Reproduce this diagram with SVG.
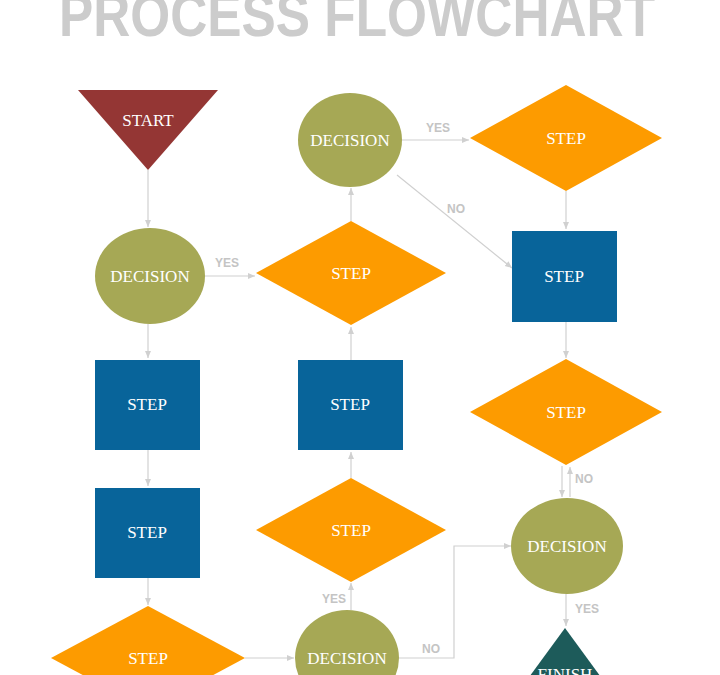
<svg xmlns="http://www.w3.org/2000/svg" width="720" height="675" viewBox="0 0 720 675">
<style>
.t{font-family:"Liberation Serif",serif;font-size:17px;fill:#fff;text-anchor:middle}
.l{font-family:"Liberation Sans",sans-serif;font-weight:bold;font-size:12px;fill:#c4c4c4}
.c{fill:none;stroke:#d0d0d0;stroke-width:1.2;marker-end:url(#a)}
.dec{fill:#a6a855}.sq{fill:#08649a}.dia{fill:#fd9b00}
</style>
<defs><marker id="a" markerWidth="8" markerHeight="8" refX="7" refY="4" orient="auto" markerUnits="userSpaceOnUse"><path d="M0,1 L7,4 L0,7z" fill="#d0d0d0"/></marker></defs>
<rect width="720" height="675" fill="#fff"/>
<text x="357" y="36" text-anchor="middle" font-family="Liberation Sans,sans-serif" font-weight="bold" font-size="62" fill="#cccccc" textLength="596" lengthAdjust="spacingAndGlyphs">PROCESS FLOWCHART</text>
<g id="connectors">
<path class="c" d="M148,170 V227"/>
<path class="c" d="M205,276 H255"/>
<path class="c" d="M148,324 V358"/>
<path class="c" d="M148,450 V486"/>
<path class="c" d="M148,578 V605"/>
<path class="c" d="M245,658 H294"/>
<path class="c" d="M351,610 V583"/>
<path class="c" d="M351,478 V452"/>
<path class="c" d="M351,360 V327"/>
<path class="c" d="M351,221 V188"/>
<path class="c" d="M402,140 H469"/>
<path class="c" d="M397,175 L512,268"/>
<path class="c" d="M566,191 V229"/>
<path class="c" d="M566,322 V358"/>
<path class="c" d="M562,466 V497"/>
<path class="c" d="M570,497 V467"/>
<path class="c" d="M399,658 H454 V546 H511"/>
<path class="c" d="M566,594 V626"/>
<text class="l" x="215" y="267">YES</text>
<text class="l" x="426" y="132">YES</text>
<text class="l" x="447" y="213">NO</text>
<text class="l" x="575" y="483">NO</text>
<text class="l" x="575" y="613">YES</text>
<text class="l" x="322" y="603">YES</text>
<text class="l" x="422" y="653">NO</text>
</g>
<g id="start"><path d="M78,90 H218 L148,170z" fill="#943634"/><text class="t" x="148" y="126">START</text></g>
<g id="dec1"><ellipse class="dec" cx="150" cy="276" rx="55" ry="48"/><text class="t" x="150" y="282">DECISION</text></g>
<g id="step1"><rect class="sq" x="95" y="360" width="105" height="90"/><text class="t" x="147" y="410">STEP</text></g>
<g id="step2"><rect class="sq" x="95" y="488" width="105" height="90"/><text class="t" x="147" y="538">STEP</text></g>
<g id="step3"><path class="dia" d="M51,658 L148,606 L245,658 L148,710z"/><text class="t" x="148" y="664">STEP</text></g>
<g id="dec5"><ellipse class="dec" cx="347" cy="658" rx="52" ry="48"/><text class="t" x="347" y="664">DECISION</text></g>
<g id="step4"><path class="dia" d="M256,530 L351,478 L446,530 L351,582z"/><text class="t" x="351" y="536">STEP</text></g>
<g id="step5"><rect class="sq" x="298" y="360" width="105" height="90"/><text class="t" x="350" y="410">STEP</text></g>
<g id="step6"><path class="dia" d="M256,273 L351,221 L446,273 L351,325z"/><text class="t" x="351" y="279">STEP</text></g>
<g id="dec2"><ellipse class="dec" cx="350" cy="140" rx="52" ry="47"/><text class="t" x="350" y="146">DECISION</text></g>
<g id="step7"><path class="dia" d="M470,138 L566,85 L662,138 L566,191z"/><text class="t" x="566" y="144">STEP</text></g>
<g id="step8"><rect class="sq" x="512" y="231" width="105" height="91"/><text class="t" x="564" y="282">STEP</text></g>
<g id="step9"><path class="dia" d="M470,412 L566,359 L662,412 L566,465z"/><text class="t" x="566" y="418">STEP</text></g>
<g id="dec3"><ellipse class="dec" cx="567" cy="546" rx="56" ry="48"/><text class="t" x="567" y="552">DECISION</text></g>
<g id="finish"><path d="M565,628 L625,710 L505,710z" fill="#1d5b5a"/><text class="t" x="565" y="680">FINISH</text></g>
</svg>
